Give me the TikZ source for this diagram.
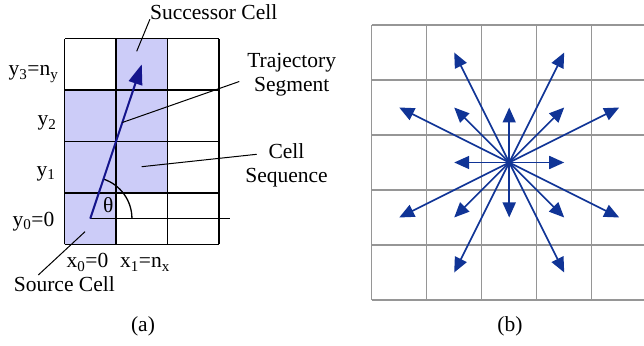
\documentclass[tikz,border=0pt]{standalone}
\usepackage{fontspec}
\setmainfont{Liberation Serif}
\usetikzlibrary{arrows.meta}
\definecolor{cellfill}{RGB}{204,204,248}
\definecolor{trajblue}{RGB}{20,20,140}
\definecolor{rayblue}{RGB}{16,52,150}
\definecolor{gridgray}{RGB}{150,150,150}

\begin{document}
\begin{tikzpicture}[
    x=1pt, y=1pt,
    font=\fontsize{21.5}{24}\selectfont,
    every node/.style={inner sep=0pt},
    leader/.style={line width=1pt},
    traj arrow/.style={trajblue, line width=2pt, -{Triangle[length=20pt,width=14pt]}},
    ray/.style={rayblue, line width=1.7pt, -{Triangle[length=15pt,width=13pt]}}
]
    \useasboundingbox (0,0) rectangle (644,345);

    % (a) cells of the segment
    \begin{scope}[shift={(64.5,100.7)}, x=51.5pt, y=51.4pt]
        \fill[cellfill] (0,0) rectangle (1,3);
        \fill[cellfill] (1,1) rectangle (2,4);
        \draw[line width=1.3pt, step=1] (0,0) grid (3,4);
        \coordinate (src) at (0.5,0.5);
        \coordinate (succ) at (1.5,3.5);
        \coordinate (axisend) at (3.21,0.5);
        \coordinate (trajpt) at (1.124,2.37);
    \end{scope}

    \draw[line width=1.3pt] (src) -- (axisend);
    \draw[line width=1.3pt] ([shift={(0:41.7)}]src) arc[start angle=0, end angle=71.57, radius=41.7];
    \draw[traj arrow] (src) -- (succ);
    \node (thetalbl) at (108.3,140) {θ};

    \node (ylab3) at (58.5,269) [anchor=base east] {y\textsubscript{3}=n\textsubscript{y}};
    \node (ylab2) at (56.5,219) [anchor=base east] {y\textsubscript{2}};
    \node (ylab1) at (55.5,168.3) [anchor=base east] {y\textsubscript{1}};
    \node (ylab0) at (54.5,118.3) [anchor=base east] {y\textsubscript{0}=0};
    \node (xlab0) at (87.5,77) [anchor=base] {x\textsubscript{0}=0};
    \node (xlab1) at (145,77) [anchor=base] {x\textsubscript{1}=n\textsubscript{x}};

    \node (succlbl) at (213.7,325.7) [anchor=base] {Successor Cell};
    \node (trajlbl) at (291.7,292) [anchor=north, align=center] {Trajectory\\Segment};
    \node (seqlbl) at (286.5,201.4) [anchor=north, align=center] {Cell\\Sequence};
    \node (srclbl) at (64.3,53) [anchor=base] {Source Cell};

    % leader lines
    \coordinate (succpt) at (136.7,293.7);
    \coordinate (trajend) at (239.3,263.5);
    \coordinate (seqpt) at (141.7,178.3);
    \coordinate (seqend) at (256.7,190.7);
    \coordinate (srcpt) at (85,113.3);
    \coordinate (srcend) at (38.3,70);
    \draw[leader] (succpt) -- (succlbl.base west);
    \draw[leader] (trajpt) -- (trajend);
    \draw[leader] (seqpt) -- (seqend);
    \draw[leader] (srcpt) -- (srcend);

    % (b) neighbourhood grid
    \begin{scope}
        \clip (360,0) rectangle (644,345);
        \draw[gridgray, line width=1.5pt, step=55, shift={(371.7,45)}] (0,0) grid (275,275);
    \end{scope}
    \coordinate (hub) at (509.2,182.5);
    \foreach \dx/\dy in {1/0,1/1,0/1,-1/1,-1/0,-1/-1,0/-1,1/-1,
                         2/1,1/2,-1/2,-2/1,-2/-1,-1/-2,1/-2,2/-1} {
        \path (hub) ++({55*(\dx)},{55*(\dy)}) coordinate (tip);
        \draw[ray] (hub) -- (tip);
    }

    \node (capa) at (143,14) [anchor=base] {(a)};
    \node (capb) at (510,14) [anchor=base] {(b)};
\end{tikzpicture}
\end{document}
